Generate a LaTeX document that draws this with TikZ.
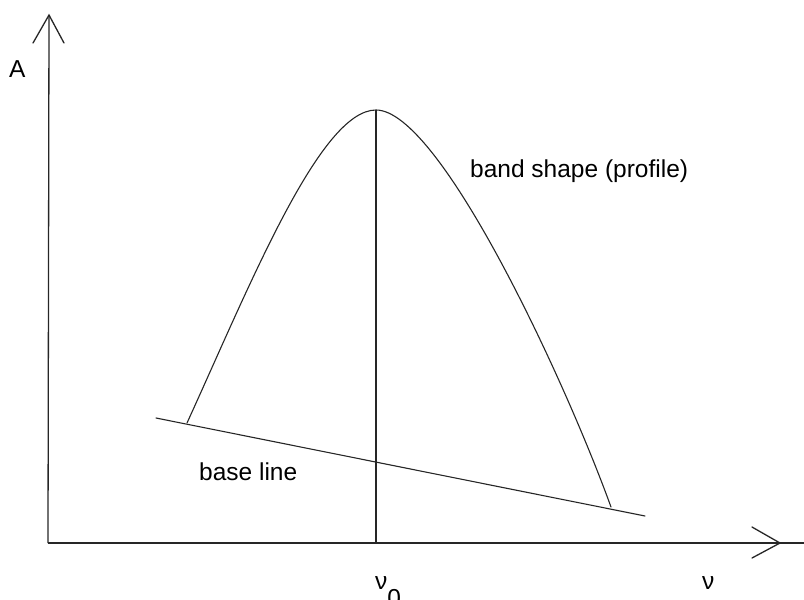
\documentclass[tikz,border=0pt]{standalone}
\usepackage{fontspec}
\setmainfont{Liberation Sans}
\begin{document}
\begin{tikzpicture}[x=1pt,y=-1pt,
  axis/.style={line width=1.3pt,black!85},
  curve/.style={line width=1.1pt,black!85,line join=round,line cap=round},
  lbl/.style={font=\fontsize{24.5}{28}\selectfont,inner sep=0pt}]
\useasboundingbox (0,0) rectangle (804,600);
% axes
\coordinate (O) at (48,543);
\coordinate (ytip) at (49,15);
\coordinate (xtip) at (780,543);
\coordinate (xend) at (804,543);
\draw[axis] (O) -- (ytip);
\draw[axis,line cap=round] (33,43) -- (ytip) -- (64,43);
\draw[axis] (O) -- (xend);
\draw[axis,line cap=round] (752,527) -- (xtip) -- (752,558);
% peak and vertical line
\coordinate (peak) at (376,110);
\coordinate (foot) at (376,543);
\draw[axis,line width=1.2pt] (peak) -- (foot);
% baseline
\coordinate (b1) at (156,418);
\coordinate (b2) at (645,516);
\draw[curve] (b1) -- (b2);
% band shape
\coordinate (left) at (187,423);
\coordinate (right) at (611,507);
\draw[curve] (left) .. controls (250,285) and (320,110) .. (peak)
  .. controls (440,110) and (565,380) .. (right);
% labels
\node[lbl,anchor=base west] (A) at (9,77) {A};
\node[lbl,anchor=base west] (band) at (470,177) {band shape (profile)};
\node[lbl,anchor=base west] (base) at (199,480) {base line};
\node[lbl,anchor=base west] (nu) at (702,589) {ν};
\node[lbl,anchor=base west] (nu0) at (375,589) {ν\raisebox{-0.7em}{0}};
\end{tikzpicture}
\end{document}
